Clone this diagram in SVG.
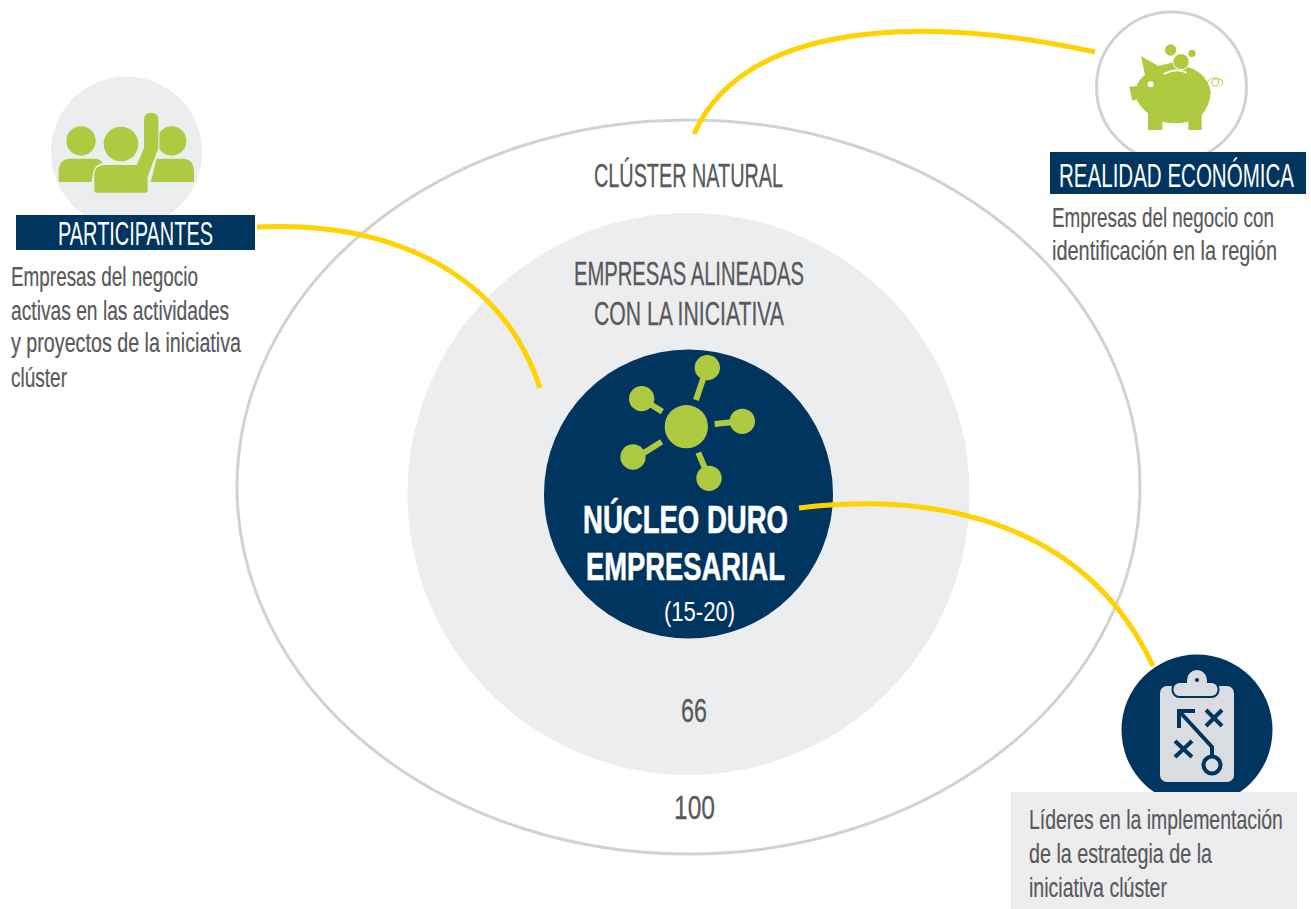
<svg xmlns="http://www.w3.org/2000/svg" width="1311" height="909" viewBox="0 0 1311 909">
<style>
text{font-family:"Liberation Sans",Arial,sans-serif}
.t{font-size:34px;fill:#58595b;stroke:#58595b;stroke-width:.3}
.b{font-size:27px;fill:#58595b;stroke:#58595b;stroke-width:.2}
.w{font-size:34px;fill:#fff}
.h{font-size:39px;font-weight:700;fill:#fff;stroke:#fff;stroke-width:.6}
.g{fill:#afca41}
.n{fill:#00355f}
.c{fill:none;stroke:#ffd200;stroke-width:5}
.k{stroke:#00355f;stroke-width:4;fill:none}
</style>
<rect width="1311" height="909" fill="#fff"/>
<g id="cluster-natural">
<ellipse cx="688.500" cy="487" rx="451.500" ry="367" fill="#fff" stroke="#d1d2d2" stroke-width="3"/>
<text class="t" x="594" y="187" textLength="189" lengthAdjust="spacingAndGlyphs">CLÚSTER NATURAL</text>
<text class="t" x="674" y="819" textLength="41" lengthAdjust="spacingAndGlyphs">100</text>
</g>
<g id="empresas-alineadas">
<circle cx="688.500" cy="494" r="281" fill="#ecedef"/>
<text class="t" x="574" y="285" textLength="230" lengthAdjust="spacingAndGlyphs">EMPRESAS ALINEADAS</text>
<text class="t" x="594" y="325" textLength="190" lengthAdjust="spacingAndGlyphs">CON LA INICIATIVA</text>
<text class="t" x="681" y="722" textLength="26" lengthAdjust="spacingAndGlyphs">66</text>
</g>
<g id="nucleo-duro">
<circle class="n" cx="688.500" cy="494" r="144.500"/>
<g transform="translate(540 340) scale(.3333)">
<circle class="g" cx="439" cy="260" r="65"/>
<circle class="g" cx="502" cy="83" r="38"/>
<circle class="g" cx="305" cy="176" r="38"/>
<circle class="g" cx="607" cy="244" r="38"/>
<circle class="g" cx="279" cy="351" r="38"/>
<circle class="g" cx="507" cy="415" r="38"/>
<path stroke="#afca41" stroke-width="18" d="M490 115L468 180M335 195L367 215M575 247L524 252M310 340L365 305M495 385L475 338"/>
</g>
<text class="h" x="583" y="533" textLength="205" lengthAdjust="spacingAndGlyphs">NÚCLEO DURO</text>
<text class="h" x="586" y="580" textLength="199" lengthAdjust="spacingAndGlyphs">EMPRESARIAL</text>
<text x="664" y="621" font-size="28" fill="#fff" textLength="71" lengthAdjust="spacingAndGlyphs">(15-20)</text>
</g>
<g id="participantes">
<circle cx="126.500" cy="152" r="75.500" fill="#ecedef"/>
<g transform="translate(0 60) scale(.3333)">
<circle class="g" cx="243" cy="243" r="44"/>
<circle class="g" cx="515" cy="243" r="44"/>
<path class="g" d="M176 366V335Q176 296 212 296H285Q300 296 308 308Q278 318 275 366Z"/>
<path class="g" d="M452 366L470 296H545Q582 296 582 335V366Z"/>
<circle class="g" cx="363" cy="252" r="52"/>
<path class="g" stroke="#ecedef" stroke-width="7" paint-order="stroke" d="M283 390V345Q283 315 315 315H410L432 265V180Q432 158 453 158Q475 158 475 180V265L443 350V392Q443 398 437 398H290Q283 398 283 390Z"/>
</g>
<rect class="n" x="16" y="215" width="239" height="35"/>
<text class="w" x="58" y="245" textLength="155" lengthAdjust="spacingAndGlyphs">PARTICIPANTES</text>
<text class="b" x="11" y="286" textLength="187" lengthAdjust="spacingAndGlyphs">Empresas del negocio</text>
<text class="b" x="11" y="320" textLength="218" lengthAdjust="spacingAndGlyphs">activas en las actividades</text>
<text class="b" x="11" y="352" textLength="230" lengthAdjust="spacingAndGlyphs">y proyectos de la iniciativa</text>
<text class="b" x="11" y="387" textLength="56" lengthAdjust="spacingAndGlyphs">clúster</text>
</g>
<g id="realidad-economica">
<circle cx="1171.500" cy="87" r="75" fill="#fff" stroke="#d1d2d2" stroke-width="3"/>
<g transform="translate(1120 30) scale(.3333)">
<path class="g" d="M63 78L115 108L160 97L205 112Q240 122 258 150Q272 170 272 190Q270 225 245 255V300H205V275Q165 285 127 275V300H84V250Q60 232 50 208L37 212L28 170L50 168Q55 150 75 135Z"/>
<path d="M132 132Q165 112 200 128" fill="none" stroke="#fff" stroke-width="5"/>
<circle cx="152" cy="60" r="17" class="g"/>
<circle cx="183" cy="95" r="23" class="g" stroke="#fff" stroke-width="5" paint-order="stroke"/>
<circle cx="216" cy="70" r="11" class="g"/>
<circle cx="92" cy="163" r="9" fill="#fff"/>
<path d="M260 160Q270 140 290 145Q302 155 290 168Q275 172 275 155Q285 140 305 150Q312 158 305 165" fill="none" stroke="#afca41" stroke-width="3"/>
</g>
<rect class="n" x="1050" y="152" width="256" height="42"/>
<text class="w" transform="translate(1059 187) scale(.604 1)">REALIDAD ECONÓMICA</text>
<text class="b" transform="translate(1052 227) scale(.698 1)">Empresas del negocio con</text>
<text class="b" transform="translate(1052 260) scale(.739 1)">identificación en la región</text>
</g>
<g id="lideres">
<circle class="n" cx="1197" cy="730" r="75.500"/>
<rect x="1160" y="686" width="74" height="96" rx="7" fill="#d9dce0"/>
<rect x="1172.500" y="682" width="46" height="15" rx="7" fill="#d9dce0" stroke="#00355f" stroke-width="2"/>
<path d="M1187 684V680a9.500 9.500 0 0 1 20 0V684Z" fill="#d9dce0"/>
<circle class="n" cx="1197" cy="680" r="2"/>
<path class="k" d="M1195 711H1179V728M1179 711L1212 747V757M1206 710L1222 726M1222 710L1206 726M1175 741L1192 757M1192 741L1175 757"/>
<circle class="k" cx="1212" cy="765" r="8.500"/>
<rect x="1011" y="792" width="286" height="117" fill="#ecedef"/>
<text class="b" transform="translate(1029 829) scale(.72 1)">Líderes en la implementación</text>
<text class="b" x="1029" y="863" textLength="183" lengthAdjust="spacingAndGlyphs">de la estrategia de la</text>
<text class="b" x="1029" y="897" textLength="138" lengthAdjust="spacingAndGlyphs">iniciativa clúster</text>
</g>
<g id="connectors">
<path class="c" d="M694 134C740 30 900 10 1095 52"/>
<path class="c" d="M257 227C400 220 505 280 540 388"/>
<path class="c" d="M799 508C950 490 1090 530 1153 666"/>
</g>
</svg>
